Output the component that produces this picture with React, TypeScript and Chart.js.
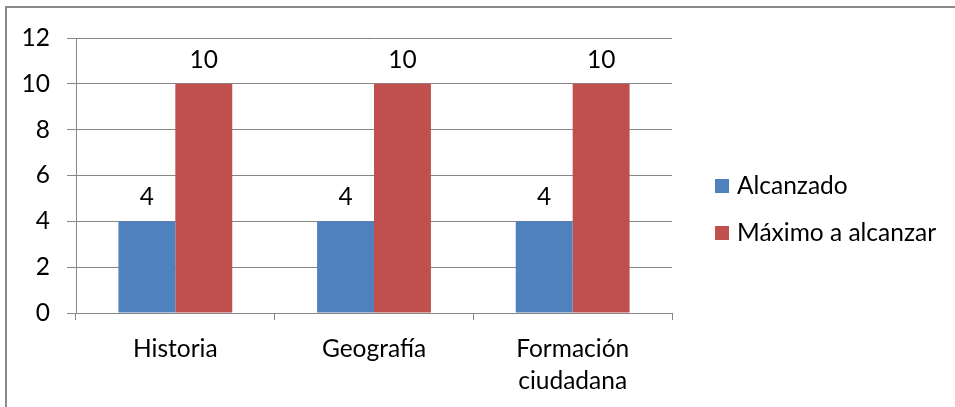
import React, { useEffect, useRef } from "react";
import { Chart, registerables } from "chart.js";

Chart.register(...registerables);

const categories: (string | string[])[] = ["Historia", "Geografía", ["Formación", "ciudadana"]];
const seriesNames = ["Alcanzado", "Máximo a alcanzar"];
const alcanzado = [4, 4, 4];
const maximo = [10, 10, 10];
const seriesColors = ["#4F81BD", "#C0504D"];
const yMin = 0;
const yMax = 12;
const yStep = 2;

const FONT = "Lato, 'Liberation Sans', sans-serif";
const FS = 24.5;
const GRID = "#868686";

const dataLabelPlugin = {
  id: "dataLabels",
  afterDatasetsDraw(chart: any) {
    const ctx = chart.ctx;
    ctx.save();
    ctx.font = `${FS}px ${FONT}`;
    ctx.fillStyle = "#000";
    ctx.textAlign = "center";
    ctx.textBaseline = "middle";
    chart.data.datasets.forEach((ds: any, i: number) => {
      const meta = chart.getDatasetMeta(i);
      meta.data.forEach((el: any, j: number) => {
        ctx.fillText(String(ds.data[j]), el.x, el.y - 24);
      });
    });
    ctx.restore();
  },
};

const legendPlugin = {
  id: "customLegend",
  afterDraw(chart: any) {
    const ctx = chart.ctx;
    ctx.save();
    ctx.font = `${FS}px ${FONT}`;
    ctx.textAlign = "left";
    ctx.textBaseline = "middle";
    const x0 = chart.chartArea.right + 43;
    const rows = [186, 233];
    chart.data.datasets.forEach((ds: any, i: number) => {
      const y = rows[i];
      ctx.fillStyle = ds.backgroundColor;
      ctx.fillRect(x0, y - 7, 14, 14);
      ctx.fillStyle = "#000";
      ctx.fillText(ds.label, x0 + 22, y);
    });
    ctx.restore();
  },
};

export default function App() {
  const ref = useRef<HTMLCanvasElement | null>(null);
  useEffect(() => {
    if (!ref.current) return;
    const chart = new Chart(ref.current, {
      type: "bar",
      data: {
        labels: categories,
        datasets: [
          { label: seriesNames[0], data: alcanzado, backgroundColor: seriesColors[0], categoryPercentage: 0.573, barPercentage: 1 },
          { label: seriesNames[1], data: maximo, backgroundColor: seriesColors[1], categoryPercentage: 0.573, barPercentage: 1 },
        ],
      },
      options: {
        responsive: false,
        animation: false,
        layout: { padding: { left: 0, top: 38, right: 283, bottom: 0 } },
        plugins: { legend: { display: false }, tooltip: { enabled: false } },
        scales: {
          y: {
            min: yMin,
            max: yMax,
            ticks: { stepSize: yStep, color: "#000", font: { family: FONT, size: FS }, padding: 17 },
            grid: { color: GRID, tickLength: 9, lineWidth: 1 },
            border: { display: true, color: GRID },
            afterFit: (s: any) => { s.width = 76; },
          },
          x: {
            grid: { drawOnChartArea: false, drawTicks: true, tickLength: 7, color: GRID, offset: true },
            border: { display: true, color: GRID },
            ticks: { color: "#000", font: { family: FONT, size: FS, lineHeight: "32px" }, padding: 13, maxRotation: 0, autoSkip: false },
            afterFit: (s: any) => { s.height = 94; },
          },
        },
      },
      plugins: [dataLabelPlugin, legendPlugin],
    });
    return () => chart.destroy();
  }, []);
  return (
    <div style={{ position: "fixed", left: 0, top: 0, width: 955, height: 407, overflow: "hidden", background: "#fff" }}>
      <canvas ref={ref} width={955} height={407} style={{ position: "absolute", left: 0, top: 0 }} />
      <div style={{ position: "absolute", left: 5, top: 6, width: 1100, height: 600, border: "2px solid #8a8a8a", pointerEvents: "none" }} />
    </div>
  );
}
